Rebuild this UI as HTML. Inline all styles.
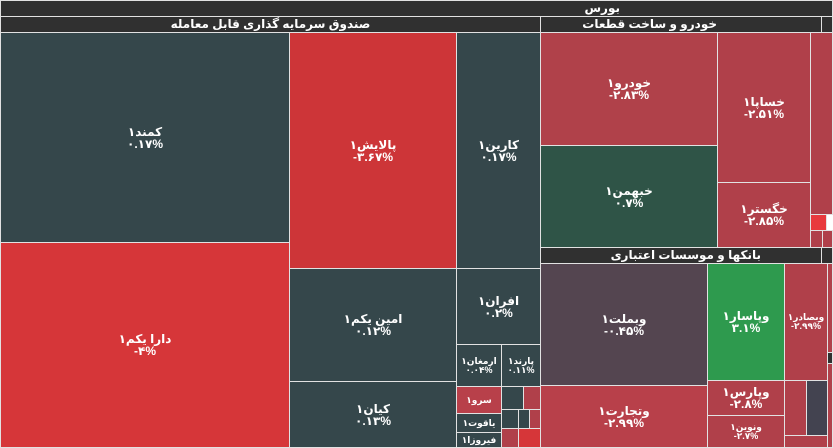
<!DOCTYPE html>
<html><head><meta charset="utf-8"><style>
body{margin:0;width:833px;height:448px;overflow:hidden;background:#fff;font-family:"Liberation Sans","DejaVu Sans",sans-serif;}
.c{position:absolute;box-sizing:border-box;border:1px solid #e2e2e2;color:#fff;display:flex;flex-direction:column;align-items:center;justify-content:center;font-size:12px;line-height:12px;text-align:center;overflow:hidden;direction:rtl;font-weight:bold;}
.c span{direction:ltr;unicode-bidi:embed;}
.h{position:absolute;box-sizing:border-box;background:#303030;color:#fff;font-size:12px;line-height:15px;direction:rtl;overflow:hidden;white-space:nowrap;border:1px solid #e2e2e2;font-weight:bold;}
.d{background:#35474b}.r{background:#b0404a}.R{background:#d63639}.g{background:#2e9a4e}
.s{font-size:9px;line-height:9px}
</style></head><body>
<div class="h" style="left:0;top:0;width:833px;height:17px;padding-right:212px">بورس</div>
<div class="h" style="left:0;top:16px;width:541px;height:17px;text-align:center">صندوق سرمایه گذاری قابل معامله</div>
<div class="h" style="left:540px;top:16px;width:282px;height:17px;padding-right:104px">خودرو و ساخت قطعات</div>
<div class="h" style="left:821px;top:16px;width:12px;height:17px"></div>

<div class="c d" style="left:0;top:32px;width:290px;height:211px">کمند۱<span>۰.۱۷%</span></div>
<div class="c R" style="left:0;top:242px;width:290px;height:206px">دارا یکم۱<span>-۴%</span></div>
<div class="c" style="left:289px;top:32px;width:168px;height:237px;background:#cd3538">پالایش۱<span>-۳.۶۷%</span></div>
<div class="c d" style="left:456px;top:32px;width:85px;height:237px">کارین۱<span>۰.۱۷%</span></div>
<div class="c d" style="left:289px;top:268px;width:168px;height:114px">امین یکم۱<span>۰.۱۲%</span></div>
<div class="c d" style="left:289px;top:381px;width:168px;height:67px">کیان۱<span>۰.۱۳%</span></div>
<div class="c d" style="left:456px;top:268px;width:85px;height:77px">افران۱<span>۰.۲%</span></div>
<div class="c d s" style="left:456px;top:344px;width:46px;height:43px">ارمغان۱<span>۰.۰۴%</span></div>
<div class="c d s" style="left:501px;top:344px;width:40px;height:43px">پارند۱<span>۰.۱۱%</span></div>
<div class="c s" style="left:456px;top:386px;width:46px;height:28px;background:#b8404a">سرو۱</div>
<div class="c d s" style="left:456px;top:413px;width:46px;height:20px">یاقوت۱</div>
<div class="c d s" style="left:456px;top:432px;width:46px;height:16px">فیروزا۱</div>
<div class="c d" style="left:501px;top:386px;width:23px;height:24px"></div>
<div class="c r" style="left:523px;top:386px;width:18px;height:24px"></div>
<div class="c d" style="left:501px;top:409px;width:18px;height:20px"></div>
<div class="c d" style="left:518px;top:409px;width:12px;height:20px"></div>
<div class="c r" style="left:529px;top:409px;width:12px;height:20px"></div>
<div class="c r" style="left:501px;top:428px;width:18px;height:20px"></div>
<div class="c R" style="left:518px;top:428px;width:23px;height:20px"></div>

<div class="c" style="left:540px;top:32px;width:178px;height:114px;background:#b0414a">خودرو۱<span>-۲.۸۳%</span></div>
<div class="c" style="left:540px;top:145px;width:178px;height:103px;background:#2f5447">خبهمن۱<span>۰.۷%</span></div>
<div class="c r" style="left:717px;top:32px;width:94px;height:151px">خساپا۱<span>-۲.۵۱%</span></div>
<div class="c r" style="left:717px;top:182px;width:94px;height:66px">خگستر۱<span>-۲.۸۵%</span></div>
<div class="c r" style="left:810px;top:32px;width:23px;height:183px"></div>
<div class="c" style="left:810px;top:214px;width:17px;height:17px;background:#e8393d"></div>
<div class="c r" style="left:810px;top:230px;width:13px;height:18px"></div>
<div class="c r" style="left:822px;top:230px;width:11px;height:18px"></div>

<div class="h" style="left:540px;top:247px;width:282px;height:17px;padding-right:60px">بانکها و موسسات اعتباری</div>
<div class="h" style="left:821px;top:247px;width:12px;height:17px"></div>
<div class="c" style="left:540px;top:263px;width:168px;height:123px;background:#544550">وبملت۱<span>-۰.۴۵%</span></div>
<div class="c" style="left:540px;top:385px;width:168px;height:63px;background:#b8404a">وتجارت۱<span>-۲.۹۹%</span></div>
<div class="c g" style="left:707px;top:263px;width:78px;height:118px">وپاسار۱<span>۳.۱%</span></div>
<div class="c r s" style="left:784px;top:263px;width:44px;height:118px">وبصادر۱<span>-۲.۹۹%</span></div>
<div class="c r" style="left:707px;top:380px;width:78px;height:36px">وپارس۱<span>-۲.۸%</span></div>
<div class="c r s" style="left:707px;top:415px;width:78px;height:33px">ونوین۱<span>-۲.۷%</span></div>
<div class="c r" style="left:784px;top:380px;width:23px;height:56px"></div>
<div class="c" style="left:806px;top:380px;width:22px;height:56px;background:#434350"></div>
<div class="c r" style="left:784px;top:435px;width:44px;height:13px"></div>
<div class="c r" style="left:827px;top:263px;width:6px;height:90px"></div>
<div class="h" style="left:827px;top:352px;width:6px;height:12px"></div>
<div class="c r" style="left:827px;top:363px;width:6px;height:85px"></div>
</body></html>
